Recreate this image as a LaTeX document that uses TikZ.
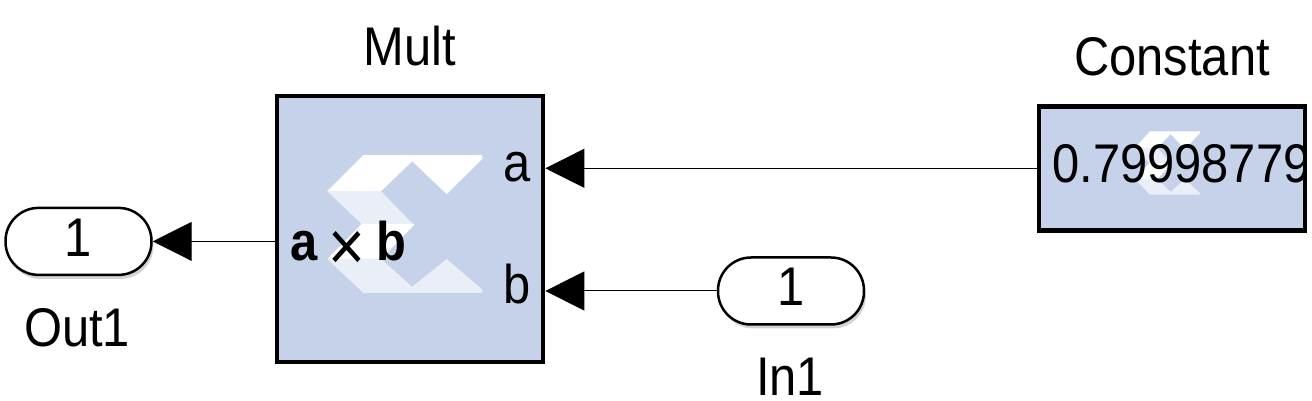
\documentclass[tikz,border=0pt]{standalone}
\usepackage{fontspec}
\setmainfont[FakeStretch=0.897]{Liberation Sans}
\usetikzlibrary{arrows.meta,shadows}
\definecolor{blockblue}{RGB}{197, 210, 233}
\definecolor{logolight}{RGB}{234, 239, 247}
\newcommand{\labelsize}{\fontsize{31}{33}\selectfont}
\newcommand{\xlogo}[4]{%
    \begin{scope}[shift={(#1,#2)}, xscale=#3, yscale=#4]
        \fill[white]     (-41.7, 68.8) -- (76.7, 68.8) -- (77.7, 65.5) -- (41.7, 29.8) -- (7.3, 62.8) -- (-24.0, 32.8) -- (-77.7, 32.8) -- cycle;
        \fill[logolight] (-77.7, 32.8) -- (-24.0, 32.8) -- (9.0, -1.2) -- (-43.3, 0.0) -- cycle;
        \fill[white]     (-43.3, 0.0) -- (9.0, 0.0) -- (9.0, -1.2) -- (-24.0, -35.0) -- (-77.7, -35.0) -- cycle;
        \fill[logolight] (-77.7, -35.0) -- (-24.0, -35.0) -- (7.3, -62.8) -- (41.7, -35.0) -- (77.7, -66.0) -- (76.7, -68.8) -- (-41.7, -68.8) -- cycle;
    \end{scope}}
\tikzset{
    blockbox/.style={draw=black, line width=0.095cm, minimum width=5.32cm},
    portbox/.style={draw=black, fill=white, line width=0.05cm, rounded corners=0.66cm, minimum width=2.92cm, minimum height=1.34cm,
        text height=0.7cm, text depth=0.1cm, inner sep=0pt, font=\labelsize,
        drop shadow={shadow xshift=0.04cm, shadow yshift=-0.08cm, opacity=0.35}},
    textlabel/.style={inner sep=0pt, anchor=base, font=\labelsize},
    wire/.style={draw=black, line width=0.02cm, -{Triangle[length=0.78cm, width=0.78cm]}}
}
\begin{document}
\begin{tikzpicture}[x=0.02cm, y=0.02cm]
    \useasboundingbox (0,0) rectangle (1312,401);
    \node[blockbox, fill=blockblue, minimum height=5.32cm] (mult) at (410,172) {};
    \xlogo{405}{177}{1.00}{1.00}
    \node[textlabel]                        (multa)  at (517,219) {a};
    \node[textlabel]                        (multb)  at (517,97)  {b};
    \node[textlabel, font=\labelsize\bfseries] (multop) at (348.5,140) {a\hspace{6.5pt}\raisebox{-0.2cm}{\fontsize{40}{40}\selectfont\mdseries ×}\hspace{6.5pt}b};
    \node[textlabel]                        (multname) at (410,335) {Mult};

    \fill[blockblue] (1039,171) rectangle (1305,295);
    \xlogo{1167.5}{238}{0.42}{0.46}
    \begin{scope}
        \clip (1039,171) rectangle (1305,295);
        \node[textlabel, anchor=base west]  (constval) at (1052,218) {0.79998779};
    \end{scope}
    \node[blockbox, minimum height=2.48cm]  (const)  at (1172,232.7) {};
    \node[textlabel]                        (constname) at (1172,325) {Constant};

    \node[portbox] (out1) at (78.5,159.6)  {1};
    \node[textlabel]                        (outname) at (77,54) {Out1};
    \node[portbox] (in1)  at (791,110) {1};
    \node[textlabel]                        (inname)  at (790,5) {In1};

    \draw[wire] (const.west) -- (const.west -| mult.east);
    \draw[wire] (in1.west)   -- (in1.west -| mult.east);
    \draw[wire] (out1.east -| mult.west) -- (out1.east);
\end{tikzpicture}
\end{document}
